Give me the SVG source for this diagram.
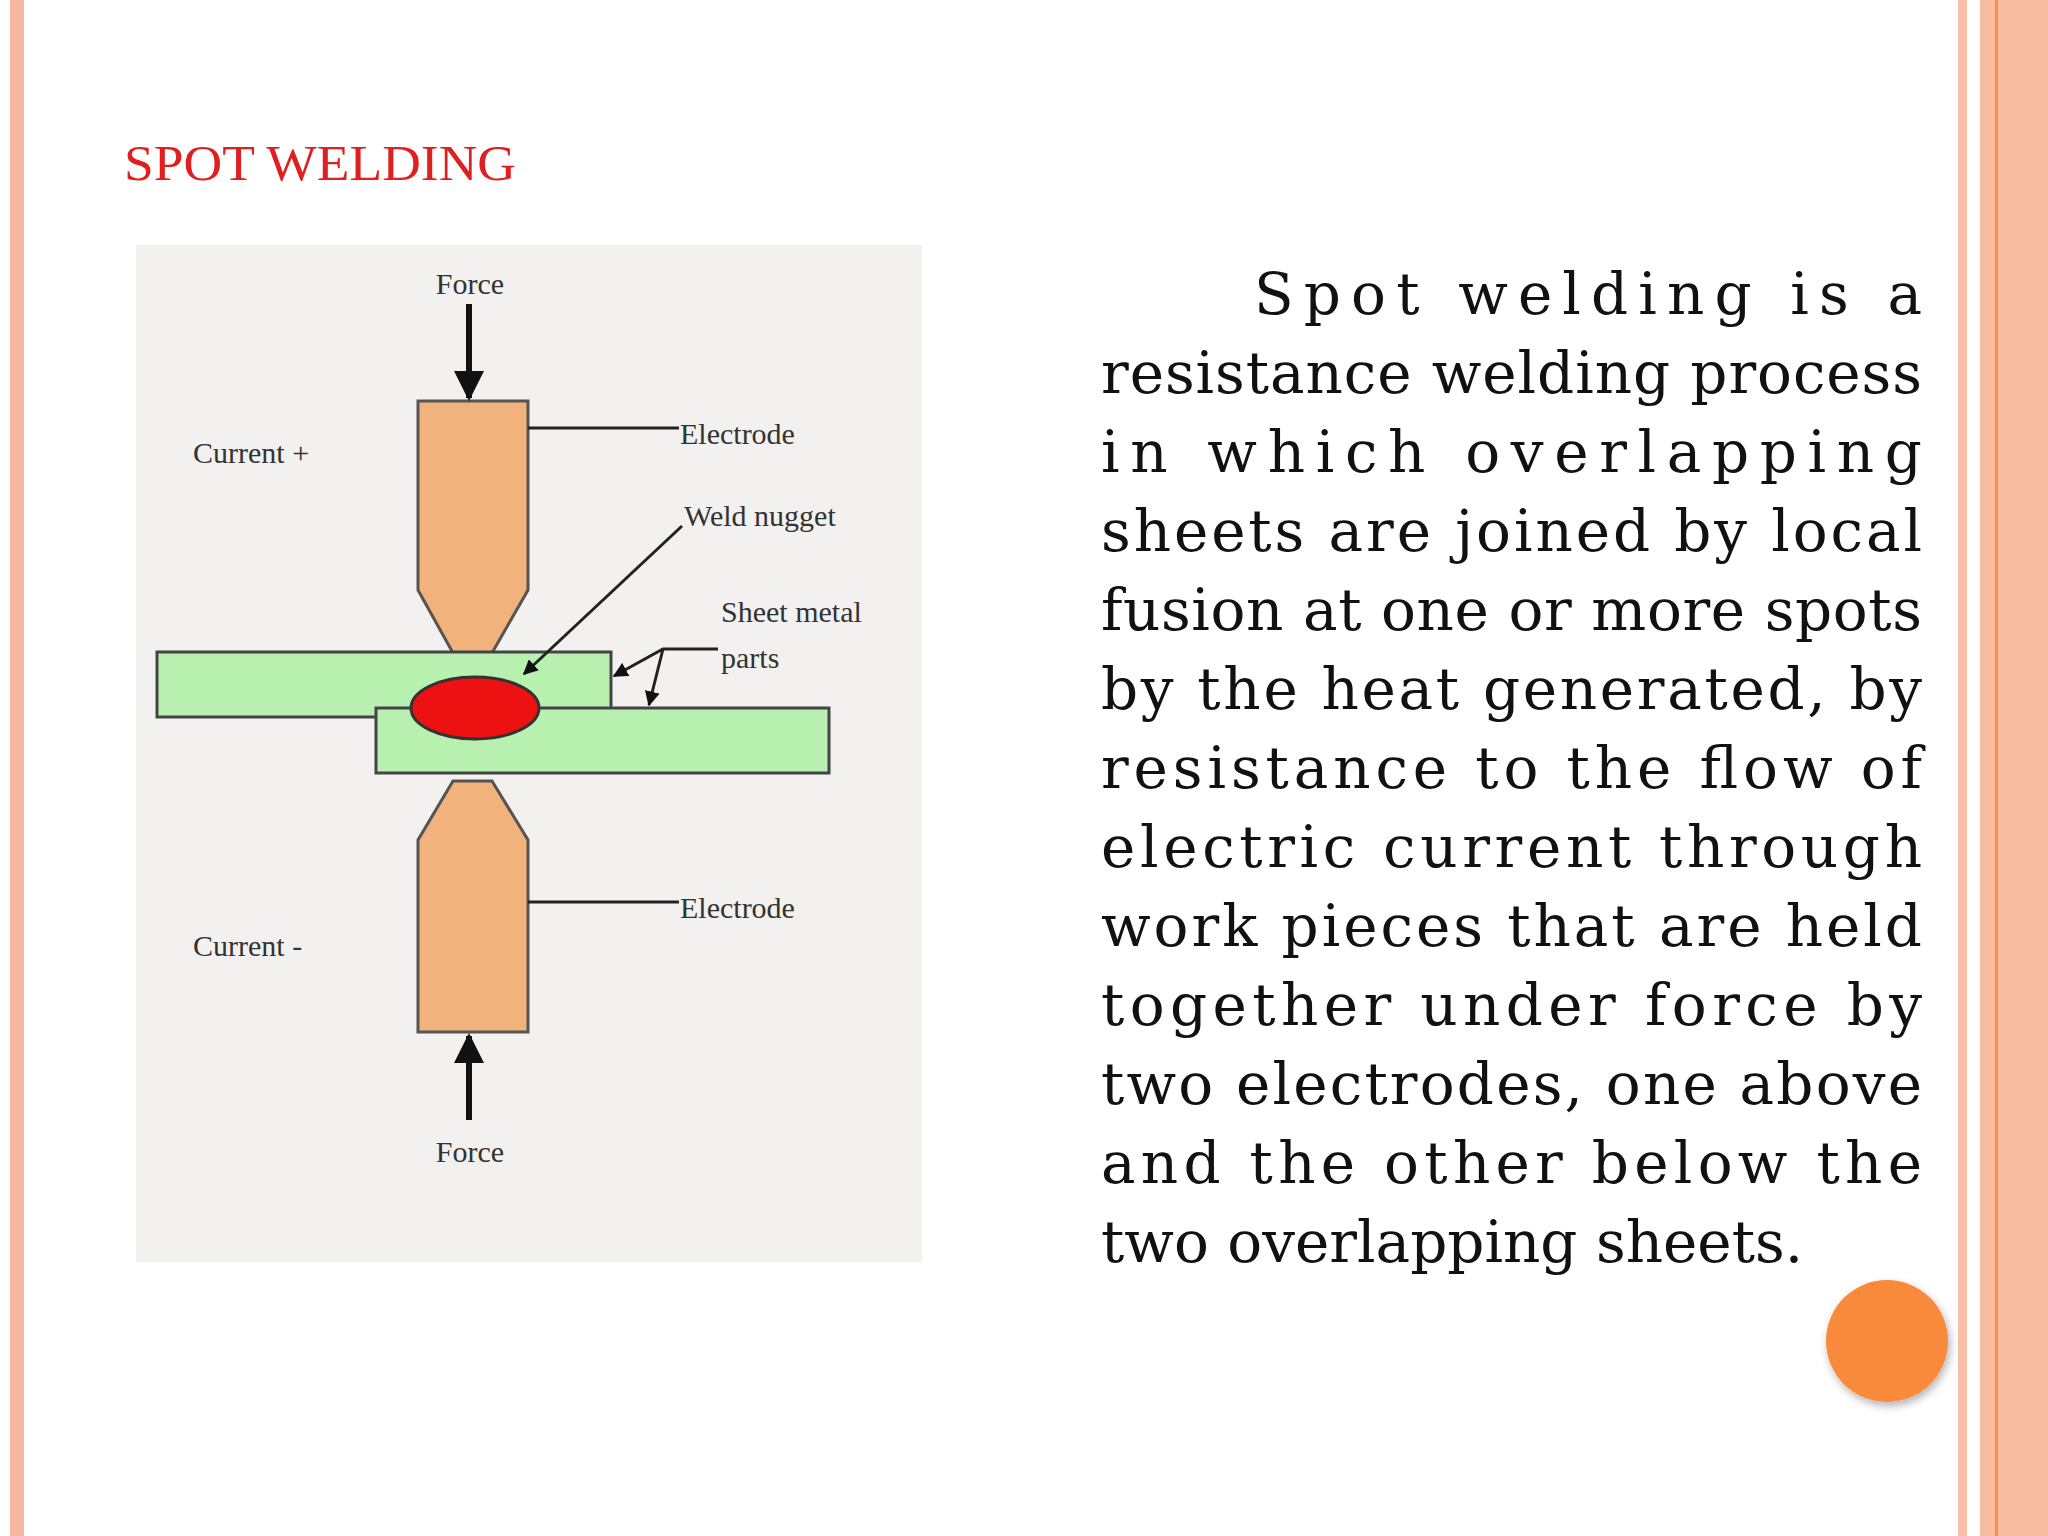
<svg xmlns="http://www.w3.org/2000/svg" width="2048" height="1536" viewBox="0 0 2048 1536">
<defs>
<style>
.lbl{font-family:"Liberation Serif",serif;font-size:30px;fill:#333}
.body{font-family:"DejaVu Serif",serif;font-size:58px;fill:#111}
.ln{stroke:#222;stroke-width:3;fill:none}
.cu{fill:#f2b27c;stroke:#555;stroke-width:3}
.gr{fill:#b8f0b0;stroke:#444;stroke-width:3}
</style>
<marker id="ah" viewBox="0 0 10 10" refX="9" refY="5" markerWidth="5" markerHeight="5" orient="auto"><path d="M0,0 L10,5 L0,10 z" fill="#111"/></marker>
<filter id="sh" x="-30%" y="-30%" width="160%" height="160%"><feDropShadow dx="2" dy="4" stdDeviation="4" flood-color="#000" flood-opacity="0.3"/></filter>
</defs>
<rect width="2048" height="1536" fill="#fff"/>
<rect x="10" y="0" width="14" height="1536" fill="#f6b8a0"/>
<rect x="1958" y="0" width="9" height="1536" fill="#f8c0a8"/>
<rect x="1980" y="0" width="68" height="1536" fill="#f8bca0"/>
<rect x="1995" y="0" width="3" height="1536" fill="#f69050"/>
<text x="124" y="180" font-family="Liberation Serif,serif" font-size="50" fill="#e02020" textLength="392" lengthAdjust="spacingAndGlyphs">SPOT WELDING</text>
<rect x="136" y="245" width="786" height="1017" fill="#f2f1f0"/>
<g id="electrode-top"><path class="cu" d="M418,401 H528 V590 L492,653 H453 L418,590 Z"/></g>
<g id="sheet-top"><rect class="gr" x="157" y="652" width="454" height="65"/></g>
<g id="sheet-bottom"><rect class="gr" x="376" y="708" width="453" height="65"/></g>
<g id="nugget"><ellipse cx="475" cy="708" rx="64" ry="31" fill="#ee1111" stroke="#333" stroke-width="3"/></g>
<g id="electrode-bottom"><path class="cu" d="M453,781 H492 L528,840 V1032 H418 V840 Z"/></g>
<g id="connectors">
<line x1="469" y1="304" x2="469" y2="398" stroke="#111" stroke-width="6" marker-end="url(#ah)"/>
<line x1="469" y1="1120" x2="469" y2="1036" stroke="#111" stroke-width="6" marker-end="url(#ah)"/>
<line class="ln" x1="528" y1="428" x2="679" y2="428"/>
<line class="ln" x1="528" y1="902" x2="679" y2="902"/>
<line class="ln" x1="682" y1="526" x2="524" y2="674" marker-end="url(#ah)"/>
<polyline class="ln" points="718,649 663,649 614,676" marker-end="url(#ah)"/>
<line class="ln" x1="663" y1="649" x2="649" y2="705" marker-end="url(#ah)"/>
</g>
<g id="labels">
<text class="lbl" x="470" y="294" text-anchor="middle">Force</text>
<text class="lbl" x="470" y="1162" text-anchor="middle">Force</text>
<text class="lbl" x="193" y="463">Current +</text>
<text class="lbl" x="193" y="956">Current -</text>
<text class="lbl" x="680" y="444">Electrode</text>
<text class="lbl" x="680" y="918">Electrode</text>
<text class="lbl" x="684" y="526">Weld nugget</text>
<text class="lbl" x="721" y="622">Sheet metal</text>
<text class="lbl" x="721" y="668">parts</text>
</g>
<g id="text" class="body">
<text x="1254" y="314" textLength="668" lengthAdjust="spacing">Spot welding is a</text>
<text x="1101" y="393" textLength="821" lengthAdjust="spacing">resistance welding process</text>
<text x="1101" y="472" textLength="821" lengthAdjust="spacing">in which overlapping</text>
<text x="1101" y="551" textLength="821" lengthAdjust="spacing">sheets are joined by local</text>
<text x="1101" y="630" textLength="821" lengthAdjust="spacing">fusion at one or more spots</text>
<text x="1101" y="709" textLength="821" lengthAdjust="spacing">by the heat generated, by</text>
<text x="1101" y="788" textLength="821" lengthAdjust="spacing">resistance to the flow of</text>
<text x="1101" y="867" textLength="821" lengthAdjust="spacing">electric current through</text>
<text x="1101" y="946" textLength="821" lengthAdjust="spacing">work pieces that are held</text>
<text x="1101" y="1025" textLength="821" lengthAdjust="spacing">together under force by</text>
<text x="1101" y="1104" textLength="821" lengthAdjust="spacing">two electrodes, one above</text>
<text x="1101" y="1183" textLength="821" lengthAdjust="spacing">and the other below the</text>
<text x="1101" y="1262">two overlapping sheets.</text>
</g>
<circle cx="1887" cy="1341" r="61" fill="#f98a3b" filter="url(#sh)"/>
</svg>
